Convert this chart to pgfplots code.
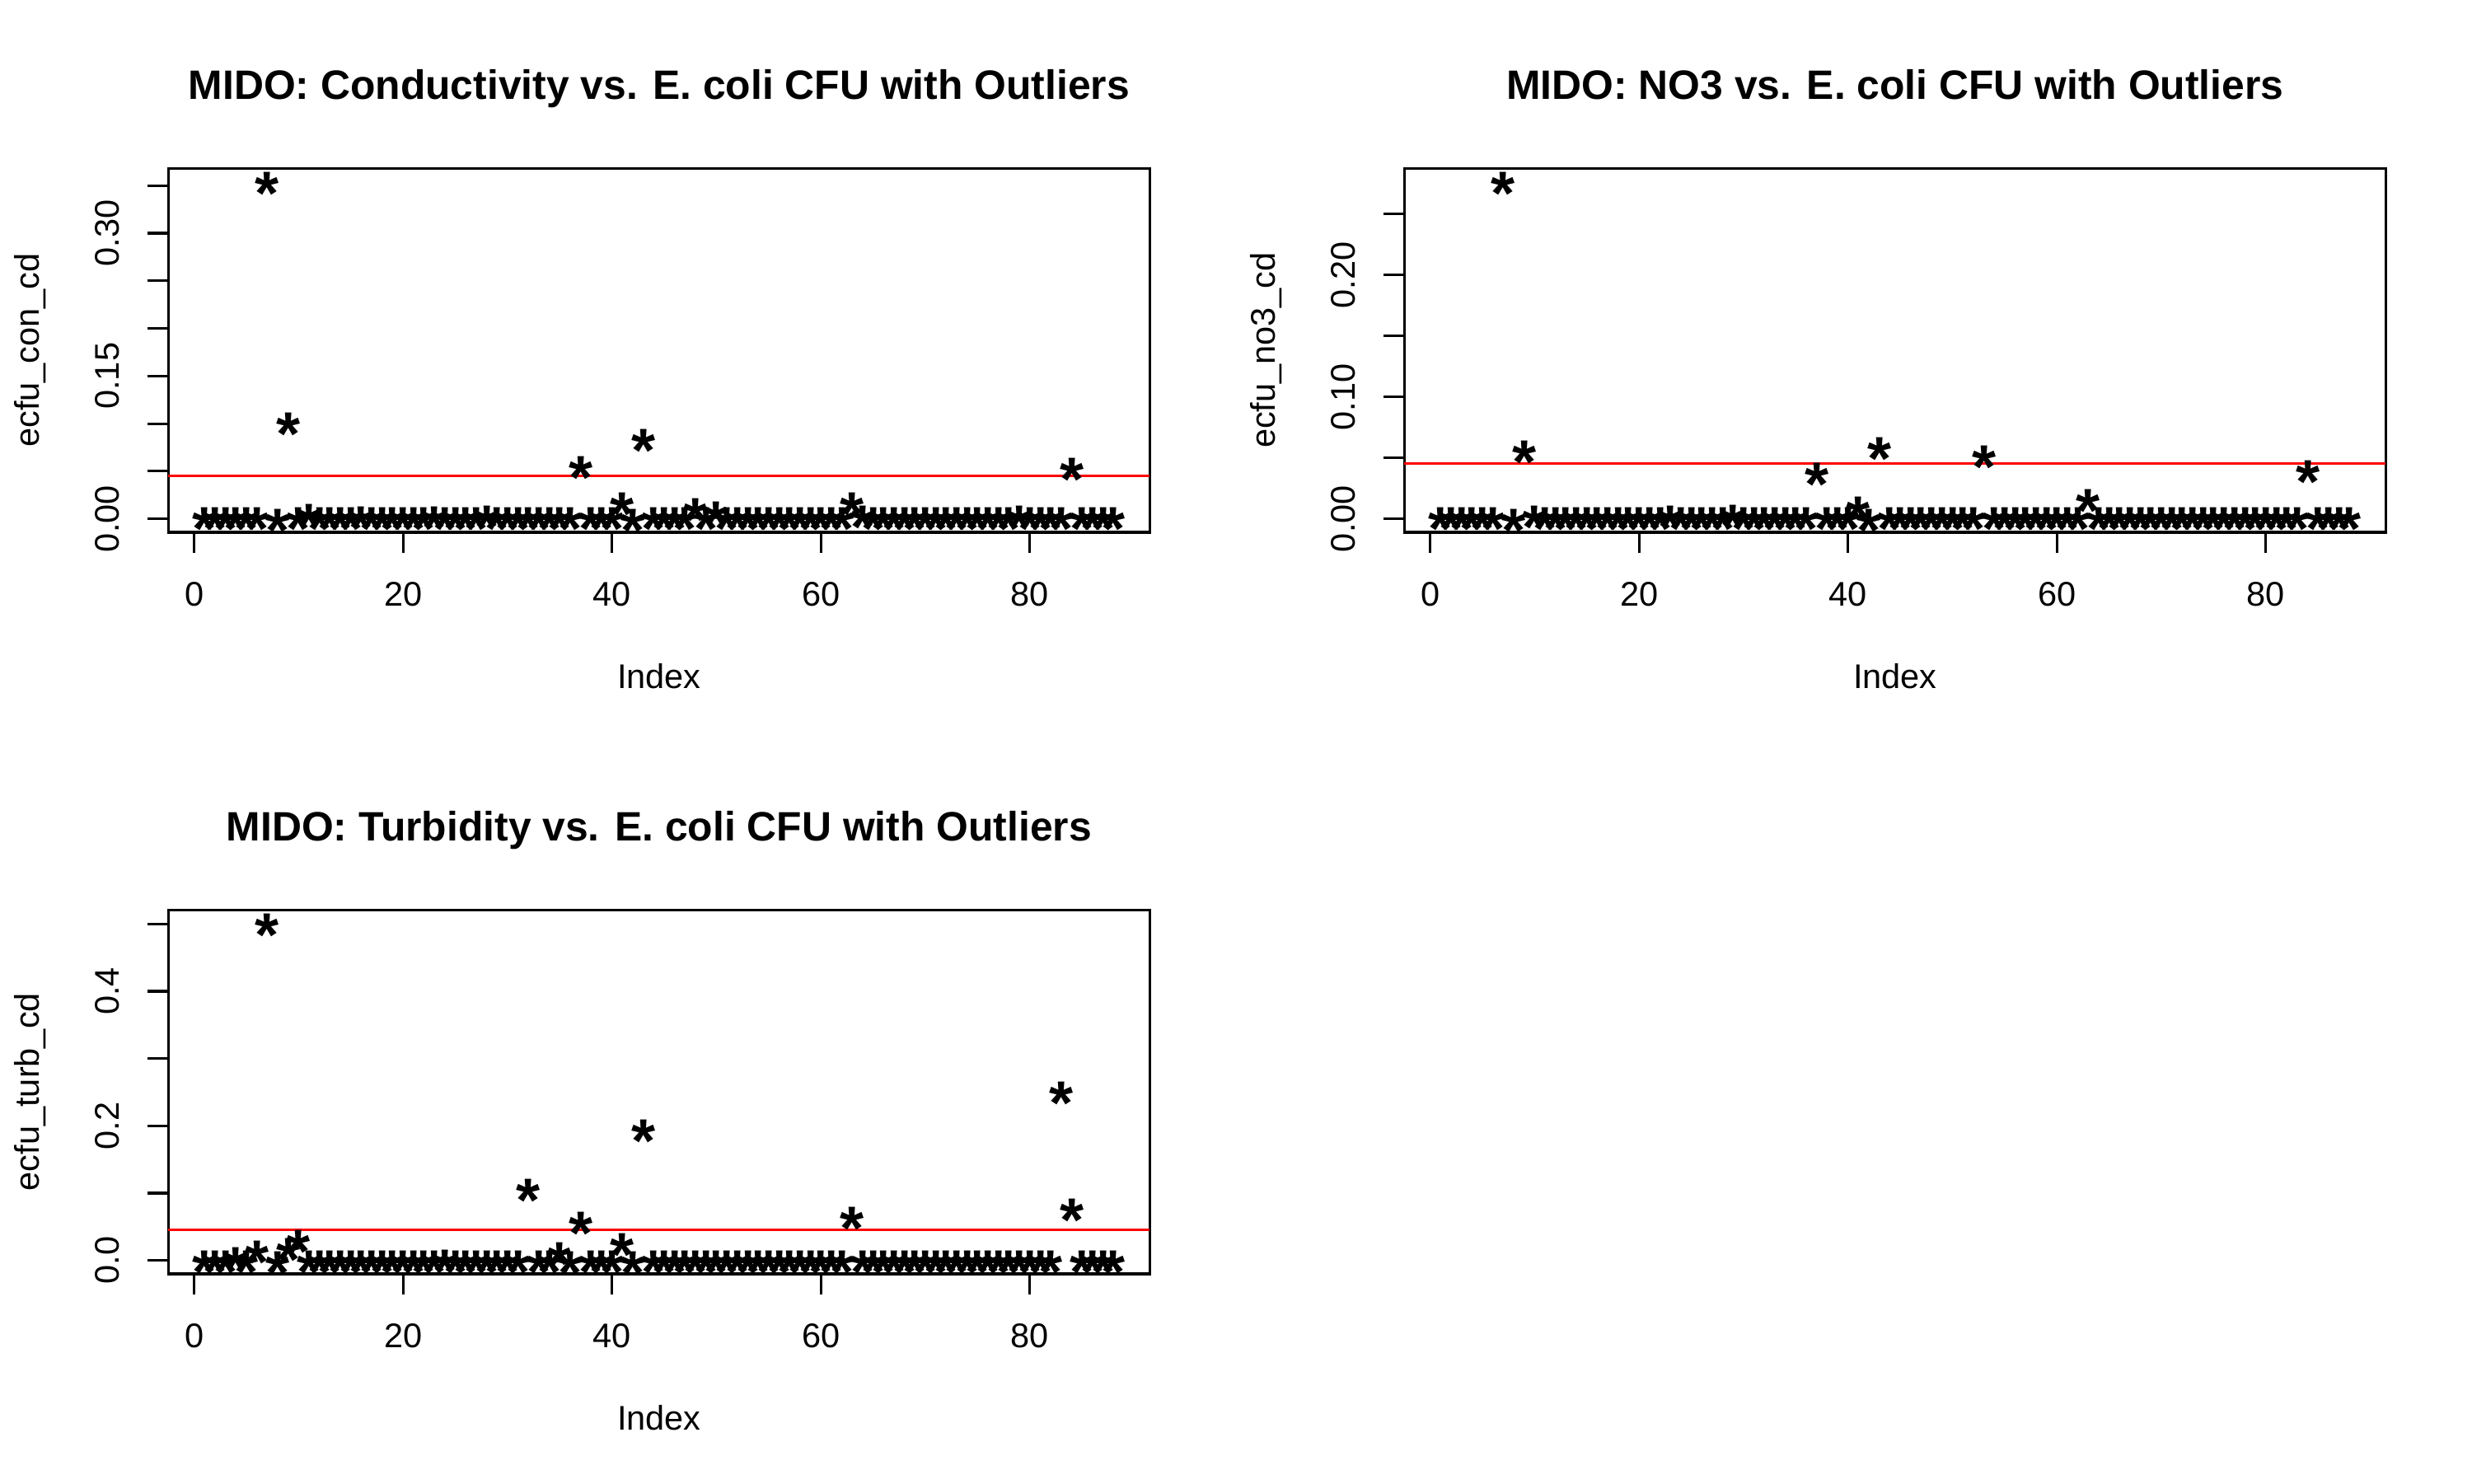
\documentclass[border=0pt]{standalone}
\usepackage{fontspec}
\setmainfont{Liberation Sans}
\usepackage{pgfplots}
\usepackage{pgfplotstable}
\pgfplotsset{compat=1.18}

\pgfplotstableread{
x y
1 0.002
2 0.002
3 0.002
4 0.002
5 0.002
6 0.002
7 0.354
8 0.000
9 0.1017
10 0.002
11 0.006
12 0.002
13 0.002
14 0.002
15 0.002
16 0.003
17 0.002
18 0.002
19 0.002
20 0.002
21 0.002
22 0.002
23 0.003
24 0.002
25 0.002
26 0.002
27 0.002
28 0.004
29 0.002
30 0.002
31 0.002
32 0.002
33 0.002
34 0.002
35 0.002
36 0.002
37 0.0562
38 0.002
39 0.002
40 0.002
41 0.0173
42 0.000
43 0.0844
44 0.002
45 0.002
46 0.002
47 0.002
48 0.0115
49 0.002
50 0.0086
51 0.002
52 0.002
53 0.002
54 0.002
55 0.002
56 0.002
57 0.002
58 0.002
59 0.002
60 0.002
61 0.002
62 0.002
63 0.0181
64 0.004
65 0.002
66 0.002
67 0.002
68 0.002
69 0.002
70 0.002
71 0.002
72 0.002
73 0.002
74 0.002
75 0.002
76 0.002
77 0.002
78 0.002
79 0.004
80 0.002
81 0.002
82 0.002
83 0.002
84 0.0544
85 0.002
86 0.002
87 0.002
88 0.002
}\tcon

\pgfplotstableread{
x y
1 0.002
2 0.002
3 0.002
4 0.002
5 0.002
6 0.002
7 0.2766
8 0.000
9 0.0564
10 0.003
11 0.002
12 0.002
13 0.002
14 0.002
15 0.002
16 0.002
17 0.002
18 0.002
19 0.002
20 0.002
21 0.002
22 0.002
23 0.003
24 0.002
25 0.002
26 0.002
27 0.002
28 0.002
29 0.004
30 0.002
31 0.002
32 0.002
33 0.002
34 0.002
35 0.002
36 0.002
37 0.0383
38 0.002
39 0.002
40 0.002
41 0.0106
42 0.000
43 0.0591
44 0.002
45 0.002
46 0.002
47 0.002
48 0.002
49 0.002
50 0.002
51 0.002
52 0.002
53 0.0523
54 0.002
55 0.002
56 0.002
57 0.002
58 0.002
59 0.002
60 0.002
61 0.002
62 0.002
63 0.0169
64 0.002
65 0.002
66 0.002
67 0.002
68 0.002
69 0.002
70 0.002
71 0.002
72 0.002
73 0.002
74 0.002
75 0.002
76 0.002
77 0.002
78 0.002
79 0.002
80 0.002
81 0.002
82 0.002
83 0.002
84 0.0404
85 0.002
86 0.002
87 0.002
88 0.002
}\tno

\pgfplotstableread{
x y
1 0.001
2 0.001
3 0.001
4 0.005
5 0.001
6 0.015
7 0.501
8 0.000
9 0.019
10 0.0307
11 0.001
12 0.001
13 0.001
14 0.001
15 0.001
16 0.001
17 0.001
18 0.001
19 0.001
20 0.001
21 0.001
22 0.001
23 0.001
24 0.002
25 0.001
26 0.001
27 0.001
28 0.001
29 0.001
30 0.001
31 0.001
32 0.1072
33 0.001
34 0.001
35 0.013
36 0.000
37 0.0581
38 0.001
39 0.001
40 0.001
41 0.0266
42 0.000
43 0.1948
44 0.001
45 0.001
46 0.001
47 0.001
48 0.001
49 0.001
50 0.001
51 0.001
52 0.001
53 0.001
54 0.001
55 0.001
56 0.001
57 0.001
58 0.001
59 0.001
60 0.001
61 0.001
62 0.001
63 0.065
64 0.001
65 0.001
66 0.001
67 0.001
68 0.001
69 0.001
70 0.001
71 0.001
72 0.001
73 0.001
74 0.001
75 0.001
76 0.001
77 0.001
78 0.001
79 0.001
80 0.001
81 0.001
82 0.001
83 0.2512
84 0.0777
85 0.001
86 0.001
87 0.001
88 0.001
}\tturb

\pgfplotsset{
  rpanel/.style={
    scale only axis, width=285.9bp, height=106.04bp,
    xmin=-2.48, xmax=91.48,
    axis line style={line width=0.75bp, black},
    tick align=outside, major tick length=5.98bp,
    tick style={line width=0.75bp, black},
    xtick={0,20,40,60,80}, xtick pos=left, ytick pos=left,
    /pgf/number format/assume math mode=true,
    tick label style={font=\fontsize{10}{12}\selectfont},
    xticklabel style={anchor=base, inner sep=0pt, yshift=-15.55bp},
    yticklabel style={xshift=-8.3bp, rotate=90, anchor=base, inner sep=0pt},
    every axis title/.style={at={(0.5,1.1894)}, anchor=base, inner sep=0pt, font=\fontsize{12}{14}\selectfont\bfseries},
    every axis x label/.style={at={(0.5,-0.4278)}, anchor=base, inner sep=0pt, font=\fontsize{10}{12}\selectfont},
    every axis y label/.style={at={(-0.1313,0.5)}, rotate=90, anchor=base, inner sep=0pt, font=\fontsize{10}{12}\selectfont},
    xlabel={Index},
  },
  star/.style={only marks, black, mark=text,
    text mark={\fontsize{18}{18}\selectfont\bfseries\raisebox{-0.54em}[0pt][0pt]{*}}},
  cutoff/.style={red, line width=0.75bp, no marks},
}

\begin{document}
\begin{tikzpicture}
\useasboundingbox (0,0) rectangle (720bp,432bp);

\begin{axis}[rpanel, at={(49bp,276.955bp)}, anchor=south west,
  ymin=-0.01416, ymax=0.36816,
  ytick={0,0.05,0.1,0.15,0.2,0.25,0.3,0.35},
  yticklabels={0.00,{},{},0.15,{},{},0.30,{}},
  title={MIDO: Conductivity vs. E. coli CFU with Outliers},
  ylabel={ecfu\_con\_cd}]
\addplot[star] table[x=x,y=y] {\tcon};
\addplot[cutoff] coordinates {(-2.48,0.04545) (91.48,0.04545)};
\end{axis}

\begin{axis}[rpanel, at={(409bp,276.955bp)}, anchor=south west,
  ymin=-0.01106, ymax=0.28766,
  ytick={0,0.05,0.1,0.15,0.2,0.25},
  yticklabels={0.00,{},0.10,{},0.20,{}},
  title={MIDO: NO3 vs. E. coli CFU with Outliers},
  ylabel={ecfu\_no3\_cd}]
\addplot[star] table[x=x,y=y] {\tno};
\addplot[cutoff] coordinates {(-2.48,0.04545) (91.48,0.04545)};
\end{axis}

\begin{axis}[rpanel, at={(49bp,60.955bp)}, anchor=south west,
  ymin=-0.02004, ymax=0.52104,
  ytick={0,0.1,0.2,0.3,0.4,0.5},
  yticklabels={0.0,{},0.2,{},0.4,{}},
  title={MIDO: Turbidity vs. E. coli CFU with Outliers},
  ylabel={ecfu\_turb\_cd}]
\addplot[star] table[x=x,y=y] {\tturb};
\addplot[cutoff] coordinates {(-2.48,0.04545) (91.48,0.04545)};
\end{axis}
\end{tikzpicture}
\end{document}
